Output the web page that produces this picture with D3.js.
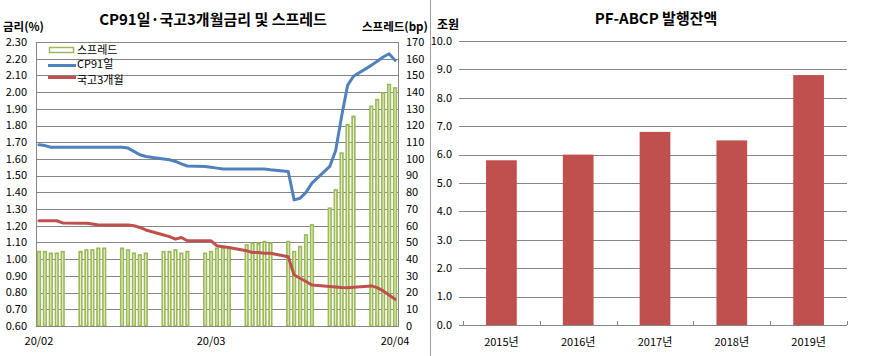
<!DOCTYPE html>
<html><head><meta charset="utf-8">
<script src="https://cdn.jsdelivr.net/npm/d3@7/dist/d3.min.js"></script>
<style>
body{margin:0;background:#fff;}
svg{display:block;}
text{font-family:"Noto Sans CJK KR","Noto Sans",sans-serif;fill:#000;}
</style></head>
<body>
<svg id="c" width="870" height="356"></svg>
<script>
// ---------- Left chart data ----------
const dates = ["2020-02-03","2020-02-04","2020-02-05","2020-02-06","2020-02-07",
"2020-02-10","2020-02-11","2020-02-12","2020-02-13","2020-02-14",
"2020-02-17","2020-02-18","2020-02-19","2020-02-20","2020-02-21",
"2020-02-24","2020-02-25","2020-02-26","2020-02-27","2020-02-28",
"2020-03-02","2020-03-03","2020-03-04","2020-03-05","2020-03-06",
"2020-03-09","2020-03-10","2020-03-11","2020-03-12","2020-03-13",
"2020-03-16","2020-03-17","2020-03-18","2020-03-19","2020-03-20",
"2020-03-23","2020-03-24","2020-03-25","2020-03-26","2020-03-27",
"2020-03-30","2020-03-31","2020-04-01","2020-04-02","2020-04-03"];
const cp91 = [1.685,1.68,1.67,1.67,1.67,
1.67,1.67,1.67,1.67,1.67,
1.67,1.665,1.645,1.625,1.615,
1.60,1.595,1.585,1.57,1.558,
1.555,1.55,1.545,1.54,1.54,
1.54,1.54,1.54,1.54,1.535,
1.525,1.355,1.365,1.40,1.455,
1.555,1.65,1.855,2.04,2.095,
2.16,2.185,2.21,2.23,2.19];
const ktb3m = [1.23,1.23,1.23,1.23,1.217,
1.215,1.215,1.21,1.205,1.205,
1.205,1.205,1.20,1.19,1.175,
1.145,1.135,1.12,1.13,1.11,
1.11,1.11,1.08,1.075,1.07,
1.05,1.04,1.04,1.035,1.035,
1.015,0.905,0.886,0.866,0.845,
0.837,0.834,0.831,0.829,0.832,
0.84,0.83,0.81,0.785,0.76];
const spread = [45,45,44,44,45,
45,46,46,47,47,
47,46,44,43,44,
45,45,46,44,45,
44,45,47,47,47,
49,50,50,51,50,
51,45,48,55,61,
71,82,104,121,126,
132,136,140,145,143];
const xTickDates = ["2020-02-03","2020-03-03","2020-04-03"];
const xTickLabels = ["20/02","20/03","20/04"];
const leftTicks = [0.6,0.7,0.8,0.9,1.0,1.1,1.2,1.3,1.4,1.5,1.6,1.7,1.8,1.9,2.0,2.1,2.2,2.3];
const rightTicks = [0,10,20,30,40,50,60,70,80,90,100,110,120,130,140,150,160,170];
const legendLabels = ["스프레드","CP91일","국고3개월"];

// ---------- Right chart data ----------
const years = ["2015년","2016년","2017년","2018년","2019년"];
const pfAbcp = [5.8,6.0,6.8,6.5,8.8];
const rightYTicks = [0,1,2,3,4,5,6,7,8,9,10];

const svg = d3.select("#c");
const GRID = "#868686";
const parse = d3.utcParse("%Y-%m-%d");
const DAY = 864e5;

// ===== Left chart =====
const L = {x0:36, x1:398, y0:42, y1:326};
const d0 = parse(dates[0]), d1 = parse(dates[dates.length-1]);
const x = d3.scaleUtc().domain([new Date(+d0 - DAY/2), new Date(+d1 + DAY/2)]).range([L.x0, L.x1]);
const yL = d3.scaleLinear().domain([0.6,2.3]).range([L.y1, L.y0]);
const yR = d3.scaleLinear().domain([0,170]).range([L.y1, L.y0]);
const gL = svg.append("g");

gL.selectAll("line.grid").data(leftTicks).join("line")
  .attr("x1",L.x0).attr("x2",L.x1)
  .attr("y1",d=>Math.round(yL(d))+0.5).attr("y2",d=>Math.round(yL(d))+0.5)
  .attr("stroke",GRID).attr("stroke-width",1);
gL.append("line").attr("x1",L.x0+0.5).attr("x2",L.x0+0.5).attr("y1",L.y0).attr("y2",L.y1).attr("stroke",GRID);
gL.append("line").attr("x1",L.x1+0.5).attr("x2",L.x1+0.5).attr("y1",L.y0).attr("y2",L.y1).attr("stroke",GRID);

const slot = x(new Date(+d0+DAY)) - x(d0);
const outerW = slot*0.72, sw = 1.7;
const pts = dates.map((d,i)=>({d:parse(d), cp:cp91[i], kt:ktb3m[i], sp:spread[i]}));
gL.selectAll("rect.bar").data(pts).join("rect")
  .attr("x",d=>x(d.d)-outerW/2+sw/2).attr("width",outerW-sw)
  .attr("y",d=>yR(d.sp)+sw/2).attr("height",d=>yR(0)-yR(d.sp)-sw/2)
  .attr("fill","#f8f8e4").attr("stroke","#9bbb59").attr("stroke-width",sw);

gL.append("line").attr("x1",L.x0).attr("x2",L.x1+1).attr("y1",L.y1+0.5).attr("y2",L.y1+0.5).attr("stroke",GRID);

const lineCP = d3.line().x(d=>x(d.d)).y(d=>yL(d.cp));
const lineKT = d3.line().x(d=>x(d.d)).y(d=>yL(d.kt));
gL.append("path").attr("d",lineKT(pts)).attr("fill","none").attr("stroke","#c0504d").attr("stroke-width",3).attr("stroke-linejoin","round").attr("stroke-linecap","round");
gL.append("path").attr("d",lineCP(pts)).attr("fill","none").attr("stroke","#4f81bd").attr("stroke-width",3).attr("stroke-linejoin","round").attr("stroke-linecap","round");

gL.selectAll("text.yl").data(leftTicks).join("text")
  .attr("x",27).attr("y",d=>yL(d)).attr("dy","0.35em").attr("text-anchor","end")
  .attr("font-size",11).text(d=>d.toFixed(2));
gL.selectAll("text.yr").data(rightTicks).join("text")
  .attr("x",406).attr("y",d=>yR(d)).attr("dy","0.35em").attr("text-anchor","start")
  .attr("font-size",11).text(d=>d);
gL.selectAll("text.xl").data(xTickDates).join("text")
  .attr("x",d=>x(parse(d))).attr("y",341).attr("dy","0.35em").attr("text-anchor","middle")
  .attr("font-size",11).text((d,i)=>xTickLabels[i]);

gL.append("text").attr("x",213).attr("y",20).attr("dy","0.35em").attr("text-anchor","middle")
  .attr("font-size",15).attr("font-weight","bold").text("CP91일·국고3개월금리 및 스프레드");
gL.append("text").attr("x",3).attr("y",27).attr("dy","0.35em").attr("font-size",11.5).attr("font-weight","bold").text("금리(%)");
gL.append("text").attr("x",362).attr("y",27).attr("dy","0.35em").attr("font-size",11.5).attr("font-weight","bold").text("스프레드(bp)");

// legend
const lg = gL.append("g");
lg.append("rect").attr("x",49.5).attr("y",47.5).attr("width",24).attr("height",5).attr("fill","#fff").attr("stroke","#9bbb59").attr("stroke-width",1.5);
lg.append("line").attr("x1",48).attr("x2",76).attr("y1",65.5).attr("y2",65.5).attr("stroke","#4f81bd").attr("stroke-width",3);
lg.append("line").attr("x1",48).attr("x2",76).attr("y1",77.5).attr("y2",77.5).attr("stroke","#c0504d").attr("stroke-width",3);
lg.selectAll("text").data(legendLabels).join("text")
  .attr("x",77).attr("y",(d,i)=>[50,64.5,80][i]).attr("dy","0.35em").attr("font-size",11).text(d=>d);

// divider
svg.append("line").attr("x1",430.5).attr("x2",430.5).attr("y1",0).attr("y2",356).attr("stroke","#a0a0a0");

// ===== Right chart =====
const R = {x0:463, x1:847, y0:41, y1:325};
const xb = d3.scaleBand().domain(years).range([R.x0,R.x1]).paddingInner(0.6).paddingOuter(0.3);
const yb = d3.scaleLinear().domain([0,10]).range([R.y1,R.y0]);
const gR = svg.append("g");
gR.selectAll("line.g").data(rightYTicks).join("line")
  .attr("x1",R.x0-4).attr("x2",R.x1)
  .attr("y1",d=>Math.round(yb(d))+0.5).attr("y2",d=>Math.round(yb(d))+0.5)
  .attr("stroke",GRID);
gR.selectAll("rect").data(pfAbcp).join("rect")
  .attr("x",(d,i)=>xb(years[i])).attr("width",xb.bandwidth())
  .attr("y",d=>yb(d)).attr("height",d=>yb(0)-yb(d)).attr("fill","#c0504d");
const step = (R.x1-R.x0)/years.length;
gR.selectAll("line.t").data(d3.range(years.length+1)).join("line")
  .attr("x1",i=>Math.round(R.x0+i*step)+0.5).attr("x2",i=>Math.round(R.x0+i*step)+0.5)
  .attr("y1",R.y1-4).attr("y2",R.y1).attr("stroke",GRID);
gR.selectAll("text.y").data(rightYTicks).join("text")
  .attr("x",452).attr("y",d=>yb(d)).attr("dy","0.35em").attr("text-anchor","end")
  .attr("font-size",11).text(d=>d.toFixed(1));
gR.selectAll("text.x").data(years).join("text")
  .attr("x",d=>xb(d)+xb.bandwidth()/2).attr("y",342).attr("dy","0.35em").attr("text-anchor","middle")
  .attr("font-size",11).text(d=>d);
gR.append("text").attr("x",656).attr("y",19).attr("dy","0.35em").attr("text-anchor","middle")
  .attr("font-size",15).attr("font-weight","bold").text("PF-ABCP 발행잔액");
gR.append("text").attr("x",437).attr("y",25).attr("dy","0.35em").attr("font-size",12).attr("font-weight","bold").text("조원");
</script>
</body></html>
